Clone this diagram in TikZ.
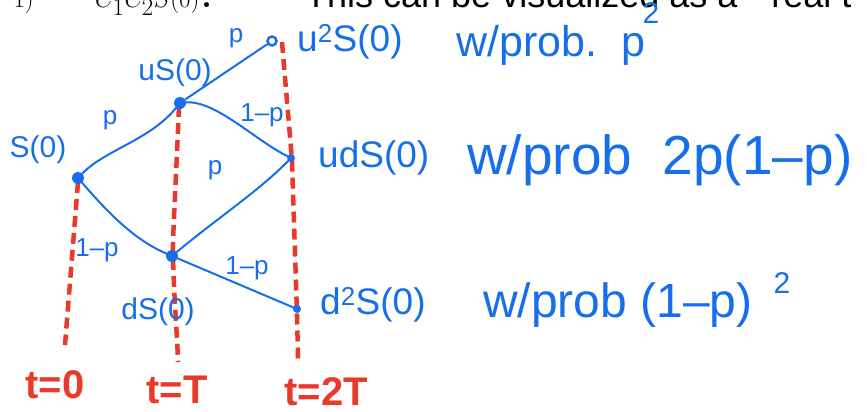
\documentclass[tikz,border=0pt]{standalone}
\usepackage{fontspec}
\newfontfamily\hand{Liberation Sans}
\newfontfamily\printsans{Liberation Sans}
\definecolor{inkblue}{RGB}{22,110,235}
\definecolor{inkred}{RGB}{232,57,42}
\tikzset{
  hw/.style={text=inkblue, font=\hand\fontsize{30}{30}\selectfont, inner sep=0pt},
  hwr/.style={text=inkblue, font=\hand\fontsize{37}{37}\selectfont, inner sep=0pt},
  elab/.style={text=inkblue, font=\hand\fontsize{26}{26}\selectfont, inner sep=0pt},
  tlab/.style={text=inkred, font=\hand\bfseries\fontsize{40}{40}\selectfont, inner sep=0pt},
  dotbig/.style={circle, fill=inkblue, minimum size=12pt, inner sep=0pt},
  dotsmall/.style={circle, fill=inkblue, minimum size=8pt, inner sep=0pt},
  ring/.style={circle, draw=inkblue, line width=2.5pt, fill=white, minimum size=9pt, inner sep=0pt},
  edge/.style={draw=inkblue, line width=2pt, line cap=round},
  timeline/.style={draw=inkred, line width=4.5pt, dash pattern=on 11pt off 6pt},
}
\begin{document}
\begin{tikzpicture}[x=1pt, y=-1pt]
\useasboundingbox (0,0) rectangle (867,412);
\begin{scope}
\clip (0,0) rectangle (867,412);
% cut-off printed text at top
\node[anchor=base east, inner sep=0pt, font=\fontsize{60}{60}\selectfont] (ptxt1) at (34,8) {$1)$};
\node[anchor=base west, inner sep=0pt, font=\fontsize{60}{60}\selectfont] (ptxt2) at (95,8) {$C_1C_2S(0)$.};
\node[anchor=base west, inner sep=0pt, font=\printsans\fontsize{36}{36}\selectfont] (ptxt3) at (305,8) {This can be visualized as a ``real t};
\end{scope}

% time lines (drawn first)
\coordinate (b0) at (65,345);
\coordinate (b1) at (178,362);
\coordinate (b2) at (298,360);
\coordinate (m1) at (173,256);
\coordinate (m2) at (292,160);
\coordinate (t0top) at (78,182);
\coordinate (t1top) at (179,106);
\coordinate (t2top) at (282,42);
\draw[timeline] (t0top) -- (b0);
\draw[timeline] (t1top) .. controls (176,180) and (172,250) .. (m1) .. controls (174,300) and (177,330) .. (b1);
\draw[timeline] (t2top) -- (m2) .. controls (294,230) and (297,300) .. (b2);

% tree nodes
\node[dotbig] (s0) at (78,178) {};
\node[dotbig] (us) at (180,103) {};
\node[ring] (uus) at (272,41) {};
\node[dotsmall] (uds) at (291,158) {};
\node[dotbig] (ds) at (172,256) {};
\node[dotsmall] (dds) at (297,309) {};

% edges
\draw[edge] (s0) .. controls (105,150) and (150,140) .. (us);
\draw[edge] (us) -- (uus);
\draw[edge] (us) .. controls (215,100) and (255,140) .. (uds);
\draw[edge] (s0) .. controls (110,215) and (135,240) .. (ds);
\draw[edge] (ds) .. controls (215,220) and (260,190) .. (uds);
\draw[edge] (ds) -- (dds);

% edge labels
\node[elab] (lp1) at (110,120) {p};
\node[elab] (lp2) at (236,38) {p};
\node[elab] (lq1) at (262,115) {1–p};
\node[elab] (lp3) at (215,170) {p};
\node[elab] (lq2) at (97,250) {1–p};
\node[elab] (lq3) at (247,268) {1–p};

% node labels
\node[hw] (ls0) at (38,150) {S(0)};
\node[hw] (lus) at (175,73) {uS(0)};
\node[hwr, anchor=west] (luus) at (297,42) {u\textsuperscript{2}S(0)};
\node[hwr, anchor=west] (luds) at (318,158) {udS(0)};
\node[hw] (lds) at (158,312) {dS(0)};
\node[hwr, anchor=west] (ldds) at (320,305) {d\textsuperscript{2}S(0)};

% probabilities
\node[text=inkblue, font=\hand\fontsize{43}{43}\selectfont, inner sep=0pt, anchor=west] (pr1) at (456,45) {w/prob.\ \ p};
\node[hw] (pr1sq) at (651,13) {2};
\node[text=inkblue, font=\hand\fontsize{55}{55}\selectfont, inner sep=0pt, anchor=west] (pr2) at (467,160) {w/prob\ \ 2p(1–p)};
\node[text=inkblue, font=\hand\fontsize{48}{48}\selectfont, inner sep=0pt, anchor=west] (pr3) at (483,305) {w/prob\ (1–p)};
\node[hw] (pr3sq) at (782,283) {2};

% time labels
\node[tlab] (tl0) at (55,385) {t=0};
\node[tlab] (tl1) at (177,390) {t=T};
\node[tlab] (tl2) at (326,392) {t=2T};
\end{tikzpicture}
\end{document}
